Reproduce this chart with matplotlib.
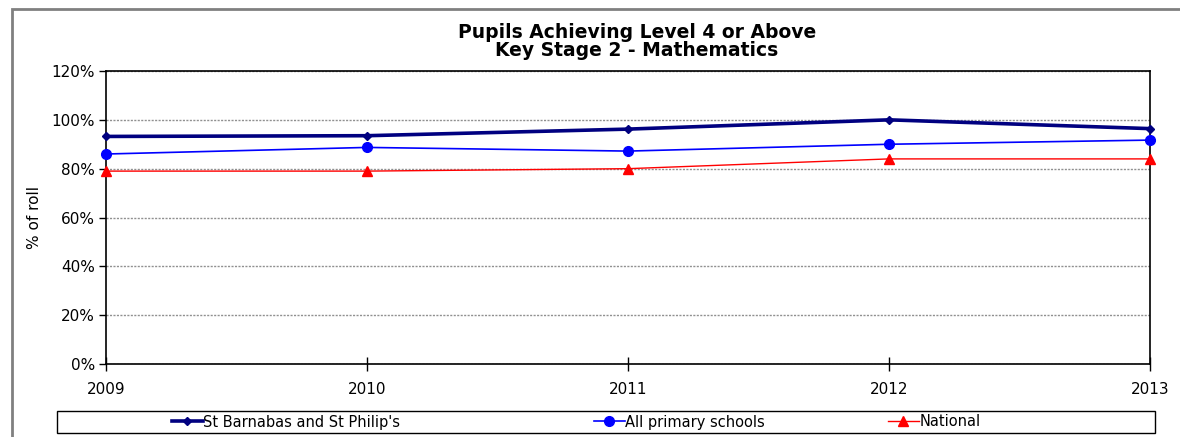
import matplotlib
matplotlib.use("Agg")
import matplotlib.pyplot as plt
from matplotlib.patches import Rectangle
from matplotlib.ticker import FuncFormatter, MultipleLocator

years = ["2009", "2010", "2011", "2012", "2013"]
st_barnabas = [93.2, 93.5, 96.2, 100.0, 96.4]
all_primary = [86.0, 88.7, 87.2, 90.0, 91.7]
national = [79.0, 79.0, 80.0, 84.0, 84.0]

series_names = ["St Barnabas and St Philip's", "All primary schools", "National"]
title_lines = ["Pupils Achieving Level 4 or Above", "Key Stage 2 - Mathematics"]
y_label = "% of roll"

plt.rcParams['font.family'] = ['DejaVu Sans']

W, H = 1180, 437
fig = plt.figure(figsize=(W / 100, H / 100), dpi=100)
fig.patch.set_facecolor('white')

# outer chart border
fig.patches.append(Rectangle((12 / W, -0.05), 1.1, 1 - 9 / H + 0.05, transform=fig.transFigure,
                             fill=False, edgecolor='#808080', linewidth=2, zorder=0))

left, right, top, bottom = 106, 1150, 71, 364
ax = fig.add_axes([left / W, 1 - bottom / H, (right - left) / W, (bottom - top) / H])

x = list(range(len(years)))
l1, = ax.plot(x, st_barnabas, color='#000080', linewidth=2.6, marker='D', markersize=4.5,
              label=series_names[0], zorder=5, clip_on=False)
l2, = ax.plot(x, all_primary, color='#0000FF', linewidth=1.2, marker='o', markersize=7,
              label=series_names[1], zorder=4, clip_on=False)
l3, = ax.plot(x, national, color='#FF0000', linewidth=1.0, marker='^', markersize=6.5,
              label=series_names[2], zorder=3, clip_on=False)

ax.set_xlim(0, len(years) - 1)
ax.set_ylim(0, 120)
ax.yaxis.set_major_locator(MultipleLocator(20))
ax.yaxis.set_major_formatter(FuncFormatter(lambda v, p: f"{int(v)}%"))
ax.set_xticks(x)
ax.set_xticklabels(years)
ax.grid(axis='y', color='#909090', linestyle=(0, (1.5, 1)), linewidth=1.0)
ax.set_axisbelow(True)
for s in ax.spines.values():
    s.set_color('black')
    s.set_linewidth(1.2)
ax.tick_params(axis='y', direction='out', length=5, width=1, labelsize=11, pad=3)
ax.tick_params(axis='x', direction='inout', length=10, width=1, labelsize=11, pad=8)
ax.set_ylabel(y_label, fontsize=11, labelpad=7)

fig.text(637 / W, 1 - 32 / H, title_lines[0], ha='center', va='center', fontsize=13.5, fontweight='bold')
fig.text(637 / W, 1 - 50 / H, title_lines[1], ha='center', va='center', fontsize=13.5, fontweight='bold')

# legend box
fig.patches.append(Rectangle((57 / W, 1 - 433 / H), (1155 - 57) / W, 22 / H, transform=fig.transFigure,
                             fill=False, edgecolor='black', linewidth=1, zorder=1))
leg_y = 1 - 422 / H
for h, xs in zip([l1, l2, l3], [172, 594, 888]):
    fig.legend(handles=[h], loc='center left', bbox_to_anchor=(xs / W, leg_y), frameon=False,
               handlelength=2.1, handletextpad=0.05, borderpad=0, borderaxespad=0, fontsize=10.5)

fig.savefig("out.png", dpi=100, facecolor='white')
